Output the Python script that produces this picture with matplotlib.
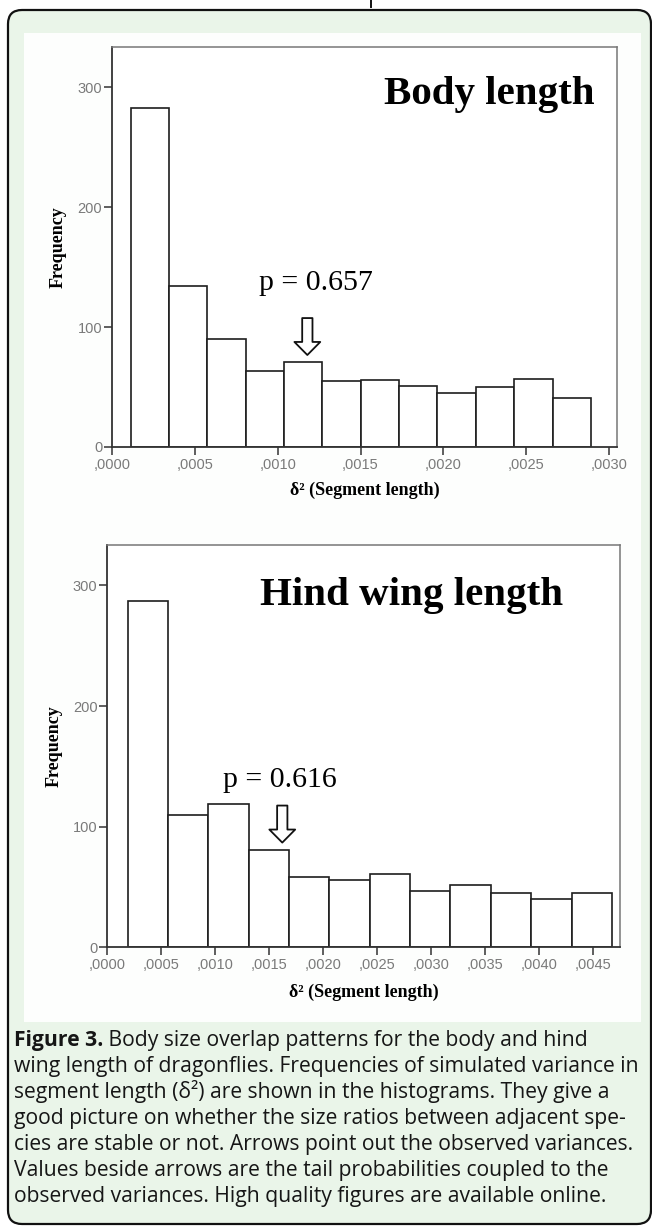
import matplotlib
matplotlib.use("Agg")
import matplotlib.pyplot as plt
import numpy as np
from matplotlib.patches import FancyBboxPatch, Rectangle
from matplotlib.lines import Line2D
from matplotlib.transforms import IdentityTransform

# ---------------- data ----------------
body_edges = [0.000113, 0.000344, 0.000576, 0.000807, 0.001039, 0.001270, 0.001501,
              0.001733, 0.001964, 0.002196, 0.002427, 0.002659, 0.002890]
body_freq = [283, 134, 90, 63, 71, 55, 56, 51, 45, 50, 57, 41]
body_ticks = [0.0, 0.0005, 0.0010, 0.0015, 0.0020, 0.0025, 0.0030]
body_ticklabels = [",0000", ",0005", ",0010", ",0015", ",0020", ",0025", ",0030"]
body_title = "Body length"
body_p = "p = 0.657"
body_arrow_x = 0.001179
body_arrow_top, body_arrow_tip = 107.5, 76.7

hind_edges = [0.000189, 0.000563, 0.000936, 0.001310, 0.001683, 0.002057, 0.002430,
              0.002804, 0.003177, 0.003551, 0.003924, 0.004298, 0.004671]
hind_freq = [287, 110, 119, 81, 58, 56, 61, 47, 52, 45, 40, 45]
hind_ticks = [0.0, 0.0005, 0.0010, 0.0015, 0.0020, 0.0025, 0.0030, 0.0035, 0.0040, 0.0045]
hind_ticklabels = [",0000", ",0005", ",0010", ",0015", ",0020", ",0025", ",0030",
                   ",0035", ",0040", ",0045"]
hind_title = "Hind wing length"
hind_p = "p = 0.616"
hind_arrow_x = 0.00162
hind_arrow_top, hind_arrow_tip = 117.5, 86.8

freq_ticks = [0, 100, 200, 300]
freq_ticklabels = ["0", "100", "200", "300"]
xlabel_text = "δ² (Segment length)"
ylabel_text = "Frequency"

caption_bold = "Figure 3."
caption_lines = [
    " Body size overlap patterns for the body and hind",
    "wing length of dragonflies. Frequencies of simulated variance in",
    "segment length (δ²) are shown in the histograms. They give a",
    "good picture on whether the size ratios between adjacent spe-",
    "cies are stable or not. Arrows point out the observed variances.",
    "Values beside arrows are the tail probabilities coupled to the",
    "observed variances. High quality figures are available online.",
]

# ---------------- layout ----------------
W, H = 652, 1226
fig = plt.figure(figsize=(W / 100, H / 100), dpi=100)
fig.patch.set_facecolor("white")

def fx(px):
    return px / W

def fy(py):
    return 1 - py / H

frame = FancyBboxPatch((8, H - 1224), 643, 1214,
                       boxstyle="round,pad=0,rounding_size=14",
                       transform=IdentityTransform(), fc="#eaf5e9", ec="#111111",
                       lw=1.6, zorder=-10)
fig.patches.append(frame)
panel = Rectangle((24, H - 1022), 617, 989, transform=IdentityTransform(),
                  fc="#fdfefd", ec="none", zorder=-9)
fig.patches.append(panel)
fig.lines.append(Line2D([371, 371], [H, H - 7], transform=IdentityTransform(),
                        color="#111111", lw=1.4))

serif = ["Liberation Serif", "DejaVu Serif"]
sans = ["Liberation Sans", "DejaVu Sans"]

def make_hist(rect_px, edges, freq, ticks, ticklabels, xmax, title, title_xy,
              ptext, p_xy, ax_x, a_top, a_tip, ylab_x, xlab_y):
    l, t, r, b = rect_px
    ax = fig.add_axes([fx(l), fy(b), fx(r - l), (b - t) / H])
    ax.set_facecolor("white")
    e = np.array(edges)
    ax.bar(e[:-1], freq, width=np.diff(e), align="edge", facecolor="white",
           edgecolor="#1e1e1e", linewidth=1.2, zorder=2)
    ax.set_xlim(0, xmax)
    ax.set_ylim(0, 333.5)
    ax.set_xticks(ticks)
    ax.set_xticklabels(ticklabels)
    ax.set_yticks(freq_ticks)
    ax.set_yticklabels(freq_ticklabels)
    for lab in ax.get_xticklabels() + ax.get_yticklabels():
        lab.set_family(sans)
        lab.set_fontsize(10.5)
        lab.set_color("#7a7a7a")
    ax.tick_params(axis="x", direction="out", length=6, width=1.1, color="#333333", pad=2)
    ax.tick_params(axis="y", direction="out", length=6, width=1.1, color="#333333", pad=1)
    for side in ["left", "bottom"]:
        ax.spines[side].set_color("#333333")
        ax.spines[side].set_linewidth(1.3)
    for side in ["top", "right"]:
        ax.spines[side].set_color("#777777")
        ax.spines[side].set_linewidth(1.1)
    ax.set_ylabel(ylabel_text, family=serif, fontweight="bold", fontsize=13)
    ax.yaxis.set_label_coords(ylab_x, 0.5)
    ax.set_xlabel(xlabel_text, family=serif, fontweight="bold", fontsize=13)
    ax.xaxis.set_label_coords(0.5, xlab_y)
    ax.xaxis.label.set_va("center")
    ax.text(title_xy[0], title_xy[1], title, family=serif, fontweight="bold",
            fontsize=29.5, ha="center", va="baseline")
    ax.text(p_xy[0], p_xy[1], ptext, family=serif, fontsize=21.5,
            ha="center", va="baseline")
    ax.annotate("", xy=(ax_x, a_tip), xytext=(ax_x, a_top),
                arrowprops=dict(arrowstyle="simple,head_length=0.47,head_width=0.93,tail_width=0.37",
                                mutation_scale=20, fc="white", ec="#111111", lw=1.3,
                                shrinkA=0, shrinkB=0), zorder=3)
    return ax

make_hist((112, 47, 617, 447), body_edges, body_freq, body_ticks, body_ticklabels,
          0.003048, body_title, (0.002276, 285.8), body_p, (0.001228, 130.8),
          body_arrow_x, body_arrow_top, body_arrow_tip, -0.089, -0.1075)
make_hist((107.3, 545, 620, 947.3), hind_edges, hind_freq, hind_ticks, hind_ticklabels,
          0.004747, hind_title, (0.002821, 284), hind_p, (0.001599, 133),
          hind_arrow_x, hind_arrow_top, hind_arrow_tip, -0.088, -0.112)

# ---------------- caption ----------------
cap_family = ["Open Sans", "DejaVu Sans"]
renderer = fig.canvas.get_renderer()
# fit the longest caption line to the box width (~626 px)
probe = fig.text(0, 0, caption_lines[4], family=cap_family, fontsize=14)
pw = probe.get_window_extent(renderer).width
probe.remove()
cap_size = 14 * 626.0 / pw
base0 = 1046
step = 26
tb = fig.text(fx(14), fy(base0), caption_bold, family=cap_family, fontweight="bold",
              fontsize=cap_size, va="baseline", ha="left", color="#161616")
bb = tb.get_window_extent(renderer)
fig.text(bb.x1 / W, fy(base0), caption_lines[0], family=cap_family, fontsize=cap_size,
         va="baseline", ha="left", color="#161616")
for i, line in enumerate(caption_lines[1:], start=1):
    fig.text(fx(14), fy(base0 + i * step), line, family=cap_family, fontsize=cap_size,
             va="baseline", ha="left", color="#161616")

fig.savefig("out.png", dpi=100)
